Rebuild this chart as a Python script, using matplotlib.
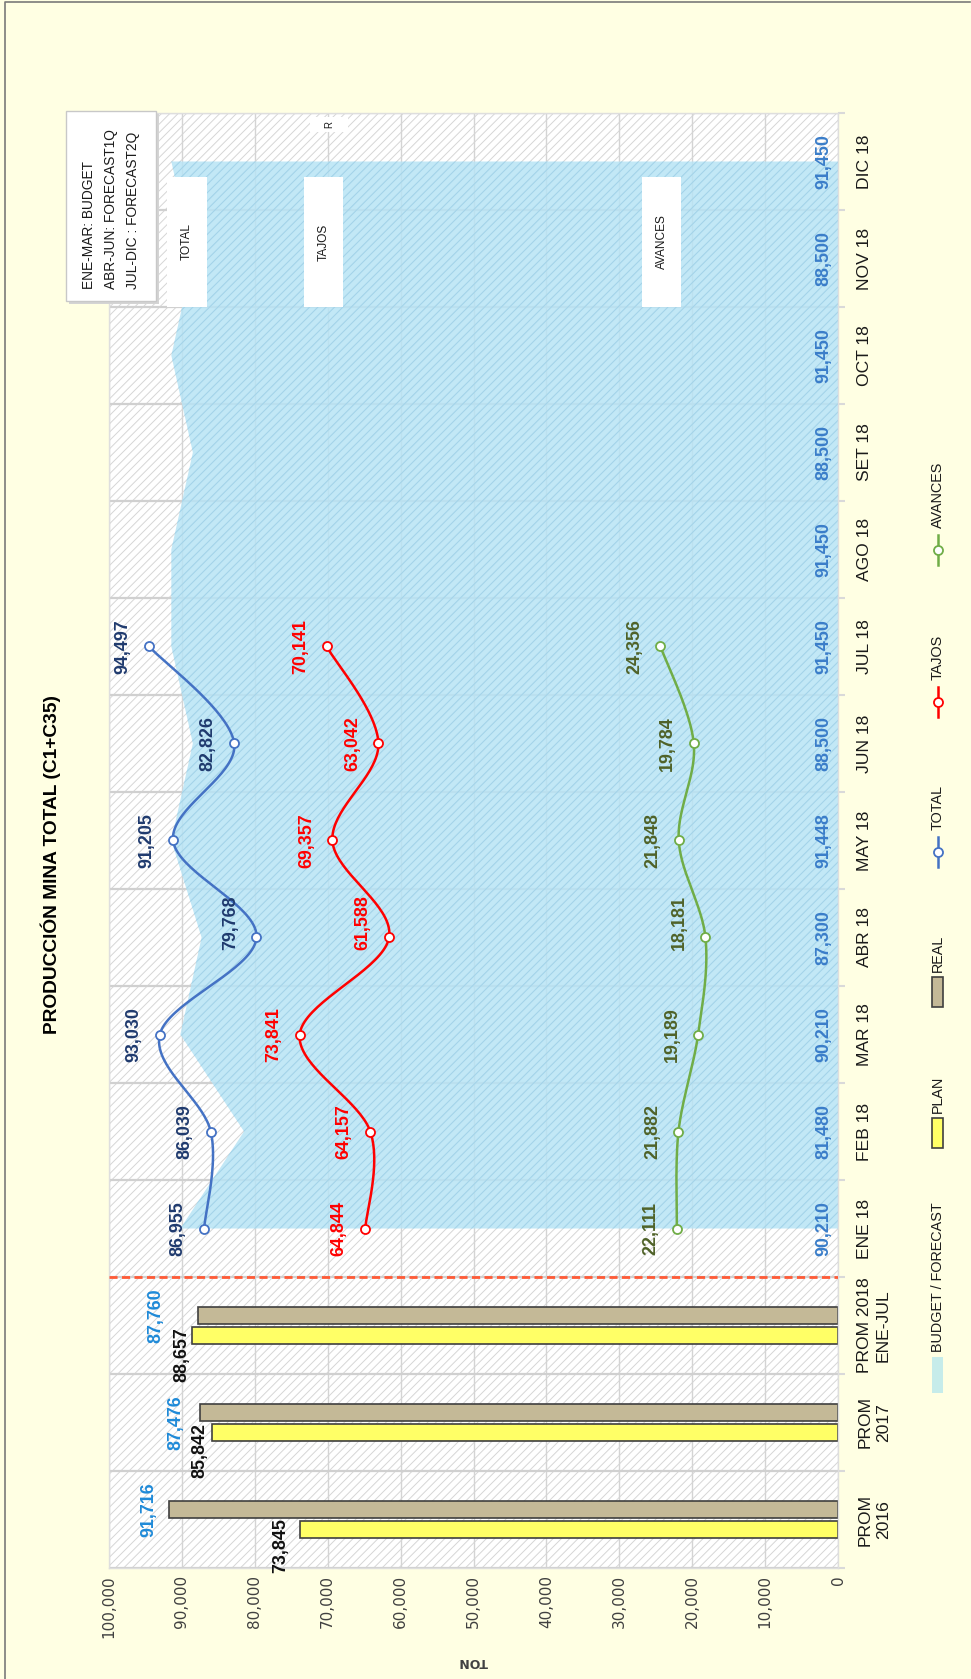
import numpy as np
import matplotlib
matplotlib.use("Agg")
import matplotlib.pyplot as plt
from matplotlib.patches import Rectangle
from matplotlib.lines import Line2D
from matplotlib.ticker import FuncFormatter
from matplotlib import font_manager as fm

# ---------------- data ----------------
categories = ['PROM\n2016', 'PROM\n2017', 'PROM 2018\nENE-JUL', 'ENE 18', 'FEB 18', 'MAR 18',
              'ABR 18', 'MAY 18', 'JUN 18', 'JUL 18', 'AGO 18', 'SET 18', 'OCT 18', 'NOV 18', 'DIC 18']
plan = [73845, 85842, 88657]
real = [91716, 87476, 87760]
budget = [90210, 81480, 90210, 87300, 91448, 88500, 91450, 91450, 88500, 91450, 88500, 91450]
total = [86955, 86039, 93030, 79768, 91205, 82826, 94497]
tajos = [64844, 64157, 73841, 61588, 69357, 63042, 70141]
avances = [22111, 21882, 19189, 18181, 21848, 19784, 24356]
value_ticks = list(range(0, 100001, 10000))
title = 'PRODUCCIÓN MINA TOTAL (C1+C35)'
note_lines = 'ENE-MAR: BUDGET\nABR-JUN: FORECAST1Q\nJUL-DIC : FORECAST2Q'

# ---------------- fonts ----------------
names = {f.name for f in fm.fontManager.ttflist}
HAS_NARROW = 'Liberation Sans Narrow' in names
plt.rcParams['font.family'] = ['Liberation Sans Narrow', 'Liberation Sans', 'DejaVu Sans'] if HAS_NARROW \
    else ['Liberation Sans', 'DejaVu Sans']
S = 1.0 if HAS_NARROW else 0.9          # size factor when the narrow face is missing
plt.rcParams['hatch.linewidth'] = 0.7

W, H = 971, 1679
fig = plt.figure(figsize=(W / 100, H / 100), dpi=100, facecolor='#FFFFE3')


def fx(x):
    return x / W


def fy(y):
    return 1 - y / H


def frect(x0, y0, x1, y1, **kw):
    return Rectangle((fx(x0), fy(y1)), (x1 - x0) / W, (y1 - y0) / H,
                     transform=fig.transFigure, **kw)


# plot area in pixel coords
L, R, T, B = 109, 838, 113, 1568
ax = fig.add_axes([fx(L), fy(B), (R - L) / W, (B - T) / H])
ax.set_xlim(100000, 0)
ax.set_ylim(-0.5, len(categories) - 0.5)

ax.patch.set_facecolor('white')
ax.patch.set_hatch('////')
ax.patch.set_edgecolor('#d6d6d6')
ax.patch.set_linewidth(0)
for s in ax.spines.values():
    s.set_color('#dedede')
    s.set_linewidth(1.0)

ax.set_axisbelow(True)
ax.set_xticks(value_ticks)
ax.xaxis.set_major_formatter(FuncFormatter(lambda v, p: f'{int(v):,}'))
ax.grid(axis='x', which='major', color='#d4d4d4', lw=1.0)
ax.tick_params(axis='x', length=0, pad=5, labelsize=11, labelcolor='#404040')
for lbl in ax.get_xticklabels():
    lbl.set_rotation(90)
    lbl.set_va('top')
    lbl.set_ha('center')
    lbl.set_family('DejaVu Sans')

idx = np.arange(len(categories))
ax.yaxis.tick_right()
ax.set_yticks(idx)
ax.set_yticklabels(categories)
ax.set_yticks(np.arange(-0.5, len(categories), 1.0), minor=True)
ax.grid(axis='y', which='minor', color='#d0d0d0', lw=1.6)
ax.tick_params(axis='y', which='major', length=0, pad=14, labelsize=14 * S, labelcolor='#1a1a1a')
ax.tick_params(axis='y', which='minor', length=5, width=1.5, color='#d9d9d9', direction='out')
for lbl in ax.get_yticklabels():
    lbl.set_rotation(90)
    lbl.set_va('center')
    lbl.set_ha('left')
    lbl.set_multialignment('center')
    lbl.set_linespacing(1.3)

# ---------------- budget / forecast area ----------------
n_avg = len(plan)
yb = idx[n_avg:n_avg + len(budget)]
ax.fill_betweenx(yb, 0, budget, facecolor='#B8E4F5', edgecolor='#9dd0e8', hatch='////',
                 linewidth=0, alpha=0.85, zorder=1)
LBL = 14 * (0.92 if not HAS_NARROW else 1.0)
for yy, v in zip(yb, budget):
    ax.text(2000, yy, f'{v:,}', rotation=90, ha='center', va='center', fontsize=LBL,
            fontweight='bold', color='#3A7DC9', zorder=6)

# ---------------- bars ----------------
bw = 0.175
yp = idx[:n_avg] - 0.1
yr = idx[:n_avg] + 0.1
ax.barh(yp, plan, height=bw, color='#FFFF66', edgecolor='#3f3f3f', linewidth=1.2, zorder=2)
ax.barh(yr, real, height=bw, color='#C4B997', edgecolor='#3f3f3f', linewidth=1.2, zorder=2)
real_off = [(-21, 0), (-24, -10), (-42, 0)]
plan_off = [(-19, -16), (-12, -18), (-10, -19)]
for yy, v, off in zip(yr, real, real_off):
    ax.annotate(f'{v:,}', (v, yy), xytext=off, textcoords='offset pixels', rotation=90,
                ha='center', va='center', fontsize=LBL, fontweight='bold', color='#1f8ad8', zorder=6)
for yy, v, off in zip(yp, plan, plan_off):
    ax.annotate(f'{v:,}', (v, yy), xytext=off, textcoords='offset pixels', rotation=90,
                ha='center', va='center', fontsize=LBL, fontweight='bold', color='#111111', zorder=6)

# separator
ax.axhline(n_avg - 0.5, color='#FF5A36', lw=2, ls=(0, (2.9, 1.6)), zorder=4)


# ---------------- smooth lines ----------------
def smooth(xs, ys, n=40):
    pts = np.column_stack([xs, ys]).astype(float)
    out = []
    for i in range(len(pts) - 1):
        p0 = pts[i - 1] if i > 0 else pts[i]
        p1, p2 = pts[i], pts[i + 1]
        p3 = pts[i + 2] if i + 2 < len(pts) else pts[i + 1]
        c1 = p1 + (p2 - p0) / 6
        c2 = p2 - (p3 - p1) / 6
        t = np.linspace(0, 1, n)[:, None]
        seg = (1 - t) ** 3 * p1 + 3 * (1 - t) ** 2 * t * c1 + 3 * (1 - t) * t ** 2 * c2 + t ** 3 * p2
        out.append(seg if i == 0 else seg[1:])
    return np.vstack(out)


series = [(total, '#4472C4', '#1F3A6E'), (tajos, '#FF0000', '#FF0000'), (avances, '#70AD47', '#4F6228')]
ym = idx[n_avg:n_avg + len(total)]
for vals, col, lcol in series:
    c = smooth(vals, ym)
    ax.plot(c[:, 0], c[:, 1], color=col, lw=1.8, zorder=3)
    ax.plot(vals, ym, ls='none', marker='o', ms=6.5, mfc='white', mec=col, mew=1.3, zorder=4)
    for k, (v, yy) in enumerate(zip(vals, ym)):
        off = (-26, 15) if k == 3 else (-26, 0)
        ax.annotate(f'{v:,}', (v, yy), xytext=off, textcoords='offset pixels', rotation=90,
                    ha='center', va='center', fontsize=LBL, fontweight='bold', color=lcol, zorder=6)

# ---------------- overlay boxes ----------------
fig.add_artist(frect(69, 114, 159, 304, facecolor='#d4d4d4', edgecolor='none', zorder=5))
fig.add_artist(frect(66, 111, 156, 301, facecolor='white', edgecolor='#c8c8c8', lw=1, zorder=5))
fig.text(fx(111), fy(289), note_lines, rotation=90, ha='center', va='bottom', fontsize=12 * S * 0.92,
         multialignment='left', linespacing=1.75, color='#1a1a1a', zorder=6)

for (x0, x1, txt) in [(167, 207, 'TOTAL'), (304, 343, 'TAJOS'), (642, 681, 'AVANCES')]:
    fig.add_artist(frect(x0, 177, x1, 307, facecolor='white', edgecolor='none', zorder=5))
    fig.text(fx((x0 + x1) / 2), fy(242), txt, rotation=90, ha='center', va='center',
             fontsize=9.5 * S, color='#1a1a1a', zorder=6)
fig.add_artist(frect(310, 117, 348, 132, facecolor='white', edgecolor='none', zorder=5))
fig.text(fx(329), fy(124.5), 'R', rotation=90, ha='center', va='center', fontsize=7,
         color='#1a1a1a', zorder=6)

# ---------------- title / axis label ----------------
fig.text(fx(51), fy(865), title, rotation=90, ha='center', va='center', fontsize=17 * S * 0.9,
         fontweight='bold', color='black')
fig.text(fx((L + R) / 2), fy(1662), 'TON', rotation=180, ha='center', va='center',
         fontsize=9, fontweight='bold', color='#404040', family='DejaVu Sans')

# ---------------- legend (rotated, drawn manually) ----------------
lx = 937.5
LF = 11.5 * S
fig.add_artist(frect(932, 1357, 943, 1393, facecolor='#C6ECEA', edgecolor='none'))
fig.text(fx(lx), fy(1352), 'BUDGET / FORECAST', rotation=90, ha='center', va='bottom', fontsize=LF, color='#1a1a1a')
fig.add_artist(frect(932, 1118, 943, 1148, facecolor='#FFFF66', edgecolor='#3f3f3f', lw=1.2))
fig.text(fx(lx), fy(1113), 'PLAN', rotation=90, ha='center', va='bottom', fontsize=LF, color='#1a1a1a')
fig.add_artist(frect(932, 977, 943, 1007, facecolor='#C4B997', edgecolor='#3f3f3f', lw=1.2))
fig.text(fx(lx), fy(972), 'REAL', rotation=90, ha='center', va='bottom', fontsize=LF, color='#1a1a1a')
for (y0, y1, txt, col) in [(837, 867, 'TOTAL', '#4472C4'), (687, 717, 'TAJOS', '#FF0000'),
                           (535, 565, 'AVANCES', '#70AD47')]:
    fig.add_artist(Line2D([fx(lx), fx(lx)], [fy(y0), fy(y1)], color=col, lw=1.8,
                          transform=fig.transFigure))
    fig.add_artist(Line2D([fx(lx)], [fy((y0 + y1) / 2)], marker='o', ms=6.5, mfc='white', mec=col,
                          mew=1.3, ls='none', transform=fig.transFigure))
    fig.text(fx(lx), fy(y0 - 7), txt, rotation=90, ha='center', va='bottom', fontsize=LF, color='#1a1a1a')

# figure border (left and top edges only are visible in the reference)
fig.add_artist(Line2D([fx(5), fx(5), fx(970)], [fy(1679), fy(2), fy(2)], color='#7a7a7a', lw=1.2,
                      transform=fig.transFigure))

fig.savefig('out.png', dpi=100, facecolor=fig.get_facecolor())
